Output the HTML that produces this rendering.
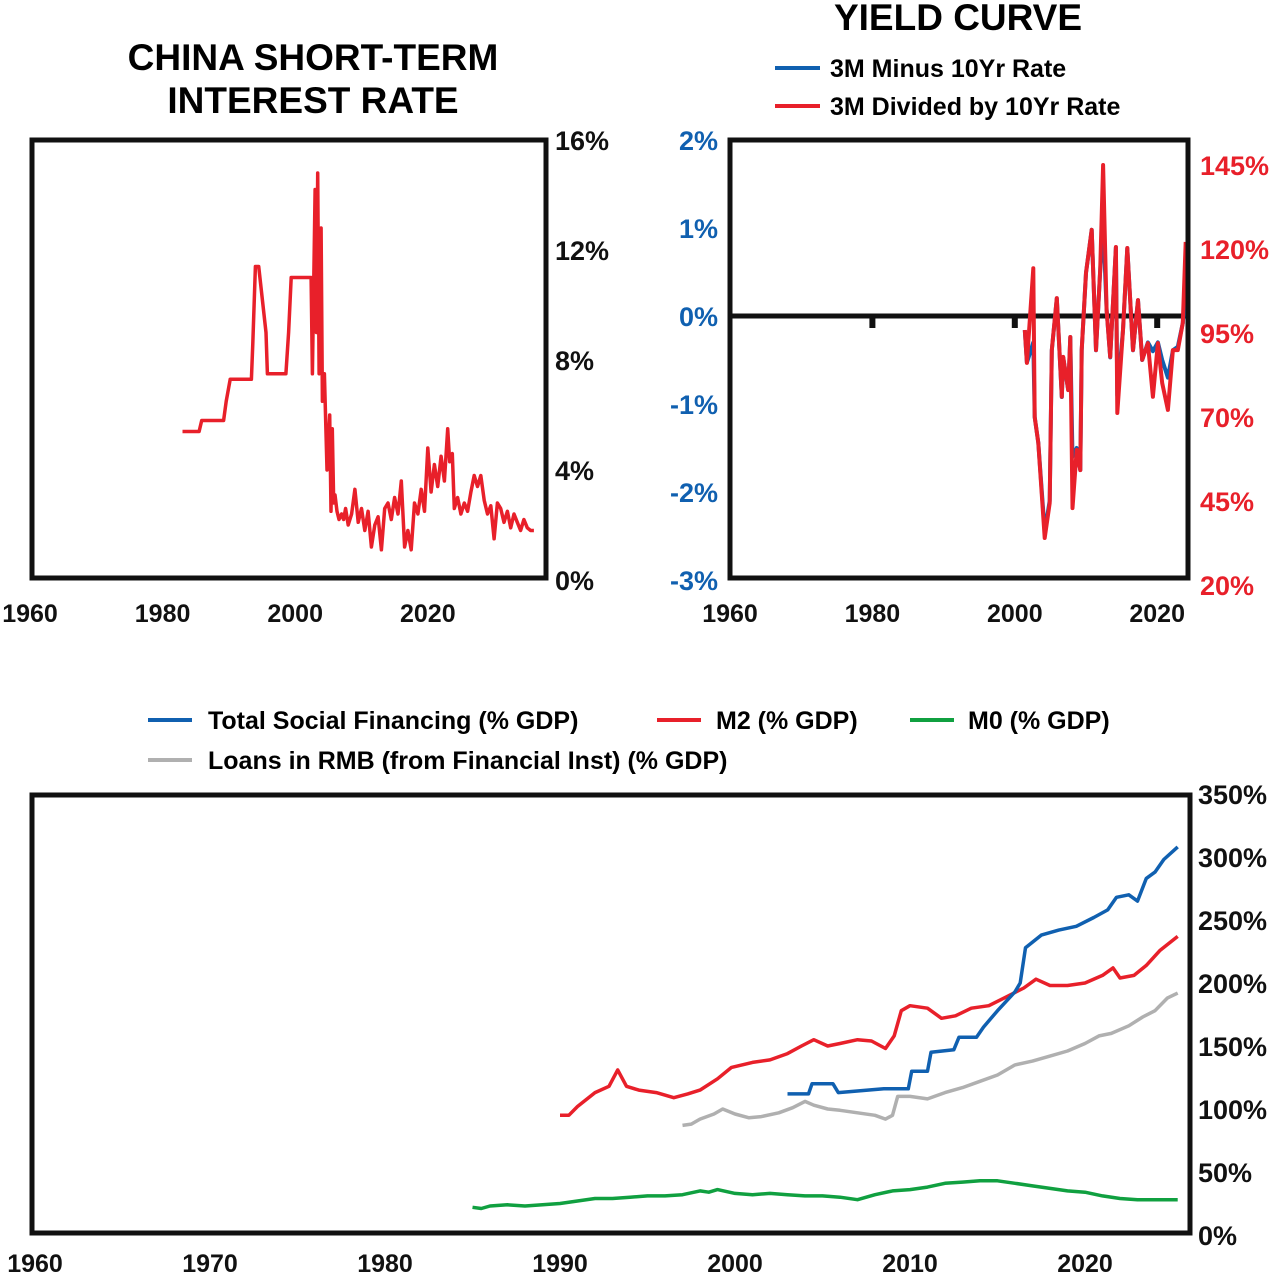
<!DOCTYPE html>
<html><head><meta charset="utf-8">
<style>
body{margin:0;background:#fff;width:1282px;height:1278px;overflow:hidden;font-family:"Liberation Sans",sans-serif;}
svg text{font-family:"Liberation Sans",sans-serif;font-weight:bold;}
</style></head>
<body>
<svg id="s" width="1282" height="1278" xmlns="http://www.w3.org/2000/svg">
<text x="313" y="70" font-size="37" text-anchor="middle">CHINA SHORT-TERM</text>
<text x="313" y="113" font-size="37" text-anchor="middle">INTEREST RATE</text>
<text x="958" y="30" font-size="37" text-anchor="middle">YIELD CURVE</text>
<line x1="775" y1="68" x2="820" y2="68" stroke="#1060b0" stroke-width="4"/>
<text x="830" y="77" font-size="25">3M Minus 10Yr Rate</text>
<line x1="775" y1="106" x2="820" y2="106" stroke="#e8202a" stroke-width="4"/>
<text x="830" y="115" font-size="25">3M Divided by 10Yr Rate</text>

<line x1="148" y1="720" x2="192" y2="720" stroke="#1060b0" stroke-width="4"/>
<text x="208" y="729" font-size="25">Total Social Financing (% GDP)</text>
<line x1="657" y1="720" x2="701" y2="720" stroke="#e8202a" stroke-width="4"/>
<text x="716" y="729" font-size="25">M2 (% GDP)</text>
<line x1="910" y1="720" x2="954" y2="720" stroke="#10a040" stroke-width="4"/>
<text x="968" y="729" font-size="25">M0 (% GDP)</text>
<line x1="148" y1="760" x2="192" y2="760" stroke="#b0b0b0" stroke-width="4"/>
<text x="208" y="769" font-size="25">Loans in RMB (from Financial Inst) (% GDP)</text>
<g id="g"></g>
</svg>
<script>
// Chart 1: short-term rate
const rateYears=[1983,1985.5,1985.9,1989.2,1989.6,1990.2,1993.4,1993.6,1994.0,1994.5,1995.6,1995.8,1998.6,1999.0,1999.4,2002.4,2002.6,2003.0,2003.2,2003.4,2003.6,2003.9,2004.1,2004.4,2004.8,2005.2,2005.4,2005.6,2005.8,2006.0,2006.3,2006.6,2007.0,2007.3,2007.6,2008,2008.5,2009,2009.5,2010,2010.5,2011,2011.5,2012,2012.5,2013,2013.5,2014,2014.5,2015,2015.5,2016,2016.5,2017,2017.5,2018,2018.5,2019,2019.5,2020,2020.5,2021,2021.5,2022,2022.5,2023,2023.3,2023.7,2024,2024.5,2025,2025.5,2026,2026.5,2027,2027.5,2028,2028.5,2029,2029.5,2030,2030.5,2031,2031.5,2032,2032.5,2033,2033.5,2034,2034.5,2035,2035.5,2036];
const rateVals=[5.4,5.4,5.8,5.8,6.5,7.3,7.3,8.6,11.4,11.4,9,7.5,7.5,9,11,11,7.5,14.2,9,14.8,7.5,12.8,6.5,7.5,4,6,2.5,5.5,2.8,3.1,2.5,2.2,2.4,2.2,2.6,2,2.4,3.3,2.1,2.6,1.8,2.5,1.2,2,2.3,1.1,2.6,2.8,2.2,3,2.4,3.6,1.2,1.8,1.1,2.8,2.4,3.3,2.5,4.8,3.2,4.2,3.4,4.5,3.6,5.5,4.3,4.6,2.6,3,2.4,2.8,2.5,3.2,3.8,3.4,3.8,2.9,2.4,2.7,1.5,2.8,2.6,2.1,2.5,1.9,2.4,2.1,1.8,2.2,1.9,1.8,1.8];
// Chart 2: yield curve
const ycYears=[2001.4,2001.7,2002.6,2002.8,2003.3,2004.2,2004.9,2005.2,2005.9,2006.6,2006.8,2007.5,2007.8,2008.1,2008.7,2009.2,2009.4,2010.0,2010.8,2011.4,2012.0,2012.4,2012.9,2013.4,2014.2,2014.4,2015.2,2015.8,2016.6,2017.3,2017.9,2018.7,2019.4,2020.1,2020.7,2021.5,2022.2,2022.9,2023.6,2024.0];
const spreadVals=[-0.16,-0.53,-0.3,-1.15,-1.44,-2.45,-2.1,-0.39,0.2,-0.92,-0.47,-0.84,-0.24,-1.6,-1.5,-1.75,-0.39,0.49,0.98,-0.39,0.52,1.07,0.07,-0.47,0.78,-0.9,-0.16,0.77,-0.39,0.18,-0.5,-0.3,-0.4,-0.3,-0.5,-0.7,-0.39,-0.35,-0.08,0.3];
const ratioVals=[95.9,86.1,114.3,70,62.3,34,44.4,89.9,105.4,76,87.9,78,93.8,42.9,60.2,54.2,89.9,112.9,125.7,89.9,113.8,145,101.8,87.9,120.6,71.2,95.9,120.3,89.9,104.8,87,92,76,92,80.1,72.1,89.9,89.9,98,122.1];
// Chart 3: money & credit (% GDP)
const tsfYears=[2003,2004.2,2004.4,2005.6,2005.9,2008.5,2009.9,2010.1,2011.0,2011.2,2012.5,2012.8,2013.8,2014.2,2015,2016,2016.3,2016.6,2017.5,2018.5,2019.5,2020.5,2021.3,2021.8,2022.5,2023,2023.5,2024,2024.5,2025.3];
const tsfVals=[112,112,120,120,113,116,116,130,130,145,147,157,157,165,178,193,200,228,238,242,245,252,258,268,270,265,283,288,298,308];
const m2Years=[1990,1990.5,1991,1992,1992.8,1993.3,1993.8,1994.5,1995.5,1996.5,1997.3,1998,1999,1999.8,2001,2002,2003,2003.8,2004.5,2005.3,2006,2007,2007.8,2008.6,2009.1,2009.5,2010,2011,2011.8,2012.6,2013.5,2014.5,2015.5,2016.5,2017.2,2018,2019,2020,2021,2021.6,2022,2022.8,2023.5,2024.3,2025.3];
const m2Vals=[95,95,102,113,118,131,118,115,113,109,112,115,124,133,137,139,144,150,155,150,152,155,154,148,158,178,182,180,172,174,180,182,189,196,203,198,198,200,206,212,204,206,214,226,237];
const loanYears=[1997,1997.5,1998,1998.8,1999.3,2000,2000.8,2001.5,2002.5,2003.3,2004,2004.5,2005.3,2006,2007,2008,2008.6,2009,2009.3,2010,2011,2012,2013,2014,2015,2016,2017,2018,2019,2020,2020.8,2021.5,2022.5,2023.3,2024,2024.7,2025.3];
const loanVals=[87,88,92,96,100,96,93,94,97,101,106,103,100,99,97,95,92,95,110,110,108,113,117,122,127,135,138,142,146,152,158,160,166,173,178,188,192];
const m0Years=[1985,1985.5,1986,1987,1988,1989,1990,1991,1992,1993,1994,1995,1996,1997,1998,1998.5,1999,2000,2001,2002,2003,2004,2005,2006,2007,2008,2009,2010,2011,2012,2013,2014,2015,2016,2017,2018,2019,2020,2021,2022,2023,2024,2025.3];
const m0Vals=[22,21,23,24,23,24,25,27,29,29,30,31,31,32,35,34,36,33,32,33,32,31,31,30,28,32,35,36,38,41,42,43,43,41,39,37,35,34,31,29,28,28,28];

const NS='http://www.w3.org/2000/svg';
const g=document.getElementById('g');
function el(tag,attrs,parent){const e=document.createElementNS(NS,tag);for(const k in attrs)e.setAttribute(k,attrs[k]);(parent||g).appendChild(e);return e;}
function txt(x,y,s,size,anchor,fill){const t=el('text',{x:x,y:y,'font-size':size,'text-anchor':anchor,fill:fill||'#111'});t.textContent=s;return t;}
function path(xs,ys,fx,fy,color,w,name){let d='';for(let i=0;i<xs.length;i++){d+=(i?'L':'M')+fx(xs[i]).toFixed(1)+','+fy(ys[i]).toFixed(1);}const p=el('path',{d:d,fill:'none',stroke:color,'stroke-width':w,'stroke-linejoin':'round'});return p;}

// Chart 1
const x1=y=>30+(y-1960)*6.63, y1=v=>580-v*27.5;
path(rateYears,rateVals,x1,y1,'#e8202a',3.5,'short-term-rate-line');
const b1=el('rect',{x:32,y:140,width:514,height:438,fill:'none',stroke:'#111','stroke-width':5});

[0,4,8,12,16].forEach(v=>{const t=txt(555,y1(v)+10,v+'%',27,'start');});
[1960,1980,2000,2020].forEach(yr=>{const t=txt(x1(yr),622,yr,25,'middle');});

// Chart 2
const x2=y=>730+(y-1960)*7.12, yl=v=>316-v*88, yr2=v=>333-(v-95)*3.36;
const zl=el('line',{x1:730,y1:316,x2:1190,y2:316,stroke:'#111','stroke-width':5});

[1980,2000,2020].forEach(yr=>{el('rect',{x:x2(yr)-3,y:316,width:6,height:12,fill:'#111'});});
path(ycYears,spreadVals,x2,yl,'#1060b0',4,'spread-line');
path(ycYears,ratioVals,x2,yr2,'#e8202a',4,'ratio-line');
const b2=el('rect',{x:730,y:140,width:458,height:438,fill:'none',stroke:'#111','stroke-width':5});

[2,1,0,-1,-2,-3].forEach(v=>{const t=txt(718,yl(v)+10,v+'%',27,'end','#1060b0');});
[20,45,70,95,120,145].forEach(v=>{const t=txt(1200,yr2(v)+10,v+'%',27,'start','#e8202a');});
[1960,1980,2000,2020].forEach(yr=>{const t=txt(x2(yr),622,yr,25,'middle');});

// Chart 3
const x3=y=>35+(y-1960)*17.5, y3=v=>1235-v*1.26;
path(m0Years,m0Vals,x3,y3,'#10a040',3.5,'m0-line');
path(loanYears,loanVals,x3,y3,'#b0b0b0',3.5,'loans-line');
path(m2Years,m2Vals,x3,y3,'#e8202a',3.5,'m2-line');
path(tsfYears,tsfVals,x3,y3,'#1060b0',3.5,'tsf-line');
const b3=el('rect',{x:32,y:795,width:1158,height:438,fill:'none',stroke:'#111','stroke-width':5});

[0,50,100,150,200,250,300,350].forEach(v=>{const t=txt(1198,y3(v)+10,v+'%',27,'start');});
[1960,1970,1980,1990,2000,2010,2020].forEach(yr=>{const t=txt(x3(yr),1272,yr,25,'middle');});
</script>
</body></html>
